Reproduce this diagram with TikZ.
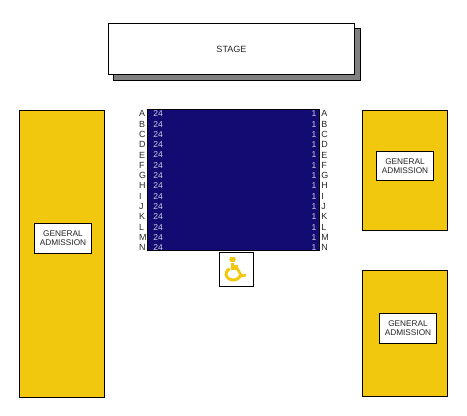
\documentclass[tikz,border=0pt]{standalone}
\usepackage{fontspec}
\setmainfont{Liberation Sans}
\usepackage{xcolor}
\usetikzlibrary{positioning}
\definecolor{seatblue}{HTML}{120C72}
\definecolor{gayellow}{HTML}{F2C80F}
\definecolor{stageshadow}{HTML}{808080}
\tikzset{
    block/.style={draw=black, line width=0.75pt, inner sep=0pt, outer sep=0pt, anchor=north west},
    gablock/.style={block, fill=gayellow},
    galabel/.style={block, fill=white, align=center, font=\fontsize{6.2}{6.9}\selectfont, text=black!85},
    rowlabel/.style={font=\fontsize{6.7}{7}\selectfont, text=black!85, inner sep=0pt, anchor=west},
    seatlabel/.style={font=\fontsize{6.4}{7}\selectfont, text=white!80!seatblue, inner sep=0pt}
}
\begin{document}
\begin{tikzpicture}[x=0.75pt, y=-0.75pt]
        \useasboundingbox (0,0) rectangle (467,415);
        % Escenario con su sombra
        \node[block, fill=stageshadow, minimum width=247pt*0.75, minimum height=52pt*0.75] (shadow) at (113.5,28.5) {};
        \node[block, fill=white, minimum width=246pt*0.75, minimum height=51pt*0.75, font=\fontsize{6.8}{8}\selectfont, text=black!85] (stage) at (108.5,23.5) {STAGE};
        % Bloque central de asientos
        \node[block, fill=seatblue, minimum width=172pt*0.75, minimum height=141pt*0.75] (seats) at (147.5,109.5) {};
        \foreach \row [count=\n from 0] in {A,B,C,D,E,F,G,H,I,J,K,L,M,N} {
            \node[rowlabel] (left\row) at (138.8,113.8+\n*10.3) {\row};
            \node[rowlabel] (right\row) at (321,113.8+\n*10.3) {\row};
            \node[seatlabel] (first\row) at (158,113.8+\n*10.3) {24};
            \node[seatlabel] (last\row) at (314,113.8+\n*10.3) {1};
        }
        % Zonas de admision general
        \node[gablock, minimum width=85pt*0.75, minimum height=287pt*0.75] (galeft) at (19.5,110.5) {};
        \node[gablock, minimum width=85pt*0.75, minimum height=120pt*0.75] (gatop) at (362.5,110.5) {};
        \node[gablock, minimum width=85pt*0.75, minimum height=126pt*0.75] (gabottom) at (362.5,270.5) {};
        \node[galabel, minimum width=57pt*0.75, minimum height=30pt*0.75] (labelleft) at (34.5,223.5) {GENERAL\\ADMISSION};
        \node[galabel, minimum width=57pt*0.75, minimum height=29pt*0.75] (labeltop) at (376.5,151.5) {GENERAL\\ADMISSION};
        \node[galabel, minimum width=57pt*0.75, minimum height=30pt*0.75] (labelbottom) at (379.5,313.5) {GENERAL\\ADMISSION};
        % Simbolo de silla de ruedas
        \node[block, fill=white, minimum width=34pt*0.75, minimum height=34pt*0.75] (wheelbox) at (219.5,252.5) {};
        \fill[gayellow] (229.5,257) rectangle (234.5,262);
        \fill[gayellow] (228.5,258.7) rectangle (235.5,260.3);
        \fill[gayellow] (231,262.5) rectangle (234,270);
        \fill[gayellow] (231,265) rectangle (238,270);
        \draw[gayellow, line width=2.2pt] (229.7,268.8) arc[start angle=-120, end angle=-350, x radius=7.2, y radius=6];
        \draw[gayellow, line width=2pt] (237,268) -- (241.5,276) -- (246,275);
\end{tikzpicture}
\end{document}
